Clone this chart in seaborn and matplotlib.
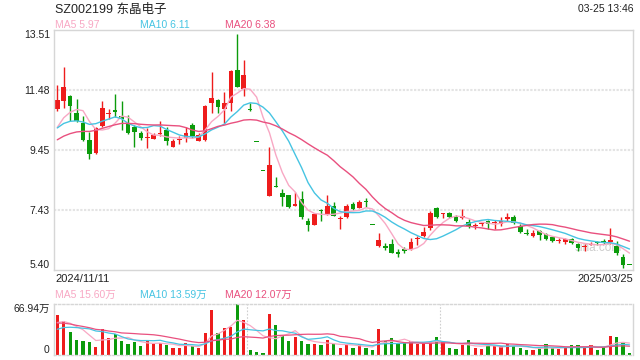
import numpy as np
import pandas as pd
import matplotlib
matplotlib.use("Agg")
import matplotlib.pyplot as plt
import seaborn as sns

# daily candles, 2024/11/11 .. 2025/03/25
opens = [10.85, 11.12, 11.27, 10.70, 10.37, 9.78, 9.35, 10.25, 10.66, 10.82,
         10.59, 10.34, 10.23, 10.02, 9.87, 9.84, 10.00, 10.14, 9.57, 9.79,
         9.86, 10.29, 9.77, 9.80, 11.04, 11.15, 10.84, 11.04, 12.17, 11.53,
         10.81, 9.72, 8.75, 7.91, 8.24, 8.00, 7.93, 7.57, 7.80, 7.07,
         6.93, 7.42, 7.30, 7.55, 7.11, 7.20, 7.63, 7.51, 7.73, 6.93,
         6.21, 6.21, 6.28, 6.02, 6.10, 6.10, 6.46, 6.55, 6.81, 7.48,
         7.29, 7.34, 7.20, 7.15, 7.03, 6.89, 6.94, 7.06, 6.99, 6.95,
         7.14, 7.18, 6.89, 6.65, 6.55, 6.72, 6.60, 6.50, 6.38, 6.33,
         6.44, 6.28, 6.18, 6.26, 6.33, 6.37, 6.33, 6.22, 5.83, 5.57]
highs = [11.66, 12.26, 11.32, 11.18, 10.59, 10.05, 10.23, 11.12, 10.84, 11.35,
         11.10, 10.63, 10.31, 10.11, 10.20, 10.03, 10.42, 10.22, 9.83, 9.92,
         10.24, 10.37, 10.03, 10.99, 12.09, 11.18, 11.40, 12.17, 13.37, 12.51,
         11.04, 9.72, 8.75, 9.56, 8.54, 8.15, 7.95, 8.04, 8.08, 7.16,
         7.33, 7.46, 7.95, 7.70, 7.21, 7.63, 7.71, 7.76, 7.82, 6.93,
         6.64, 6.30, 6.45, 6.10, 6.17, 6.47, 6.55, 6.86, 7.39, 7.54,
         7.34, 7.37, 7.26, 7.45, 7.12, 7.00, 7.03, 7.09, 7.09, 7.20,
         7.31, 7.26, 6.95, 6.79, 6.75, 6.75, 6.64, 6.55, 6.47, 6.47,
         6.47, 6.30, 6.27, 6.36, 6.39, 6.44, 6.83, 6.39, 5.94, 5.57]
lows = [10.78, 10.87, 10.45, 10.40, 9.77, 9.16, 9.32, 10.22, 10.51, 10.56,
        10.14, 10.00, 9.57, 9.79, 9.52, 9.83, 9.92, 9.61, 9.56, 9.67,
        9.72, 9.86, 9.75, 9.77, 10.70, 10.70, 10.37, 10.76, 11.57, 11.29,
        10.78, 9.71, 8.74, 7.89, 8.19, 7.57, 7.49, 7.55, 7.13, 6.71,
        6.92, 7.07, 7.27, 7.21, 6.80, 7.17, 7.43, 7.48, 7.52, 6.92,
        6.19, 6.08, 5.96, 5.85, 5.99, 6.08, 6.24, 6.53, 6.75, 7.17,
        7.15, 7.15, 7.01, 7.11, 6.81, 6.77, 6.89, 6.77, 6.77, 6.89,
        7.07, 6.95, 6.64, 6.58, 6.53, 6.41, 6.41, 6.33, 6.32, 6.27,
        6.27, 6.04, 6.05, 6.24, 6.24, 6.29, 6.27, 5.91, 5.46, 5.56]
closes = [11.15, 11.57, 10.95, 10.45, 9.80, 9.33, 10.20, 10.87, 10.68, 10.74,
          10.51, 10.03, 10.05, 9.86, 9.89, 9.97, 10.01, 9.75, 9.75, 9.80,
          10.02, 9.94, 9.97, 10.93, 11.21, 10.90, 11.04, 12.13, 11.60, 11.98,
          10.79, 9.71, 8.74, 8.96, 8.22, 7.85, 7.52, 7.63, 7.18, 6.93,
          7.30, 7.38, 7.57, 7.24, 7.13, 7.56, 7.46, 7.69, 7.69, 6.92,
          6.41, 6.15, 5.99, 5.94, 6.03, 6.33, 6.48, 6.70, 7.34, 7.20,
          7.31, 7.20, 7.07, 7.22, 6.89, 6.92, 6.96, 6.95, 7.01, 7.06,
          7.16, 6.98, 6.70, 6.63, 6.64, 6.58, 6.45, 6.39, 6.40, 6.44,
          6.30, 6.15, 6.20, 6.28, 6.31, 6.35, 6.41, 5.96, 5.57, 5.56]
# volume in 万
volumes = [52.9, 44.9, 30.5, 19.4, 18.1, 17.2, 10.0, 34.1, 22.1, 27.0,
           18.1, 14.1, 17.2, 11.4, 18.5, 15.0, 15.8, 12.7, 9.1, 9.1,
           15.8, 11.8, 9.1, 29.2, 59.6, 28.4, 35.9, 37.2, 66.94, 46.2,
           7.0, 3.7, 2.4, 54.2, 39.5, 24.8, 18.5, 23.0, 18.5, 14.1,
           14.1, 12.7, 19.4, 14.1, 9.6, 12.7, 9.6, 15.0, 9.6, 6.0,
           33.7, 18.5, 21.7, 14.1, 15.8, 18.5, 14.1, 15.8, 17.2, 23.0,
           17.2, 9.6, 8.3, 12.7, 19.4, 9.6, 8.3, 11.4, 11.4, 11.4,
           14.1, 11.4, 9.6, 7.0, 6.0, 9.1, 14.1, 9.1, 7.6, 9.6,
           12.7, 12.7, 9.6, 12.7, 7.0, 10.4, 24.8, 23.8, 17.2, 2.0]

# the 19 sessions before the window, only used to seed the moving averages
warm_closes = [9.10, 9.25, 9.32, 9.40, 9.38, 9.45, 9.50, 9.48, 9.55, 9.57,
               10.05, 10.22, 10.30, 10.18, 10.15, 9.95, 10.02, 9.98, 10.00]
warm_volumes = [48, 52, 55, 47, 50, 53, 49, 51, 46, 49,
                22, 27, 24, 26, 26, 38, 42, 41, 39]

price_ticks = [5.40, 7.43, 9.45, 11.48, 13.51]
vol_ticks = [0, 66.94]
vol_tick_labels = ['0', '66.94万']
ma_windows = [5, 10, 20]
ma_colors = ['#f8a8c4', '#46c4e2', '#e9507f']
price_legend = ['MA5 5.97', 'MA10 6.11', 'MA20 6.38']
vol_legend = ['MA5 15.60万', 'MA10 13.59万', 'MA20 12.07万']

RED = '#ee1c1c'
GREEN = '#0b9b0b'
EDGE = '#d6d6d6'

sns.set_theme(style='white')
plt.rcParams['font.family'] = ['Liberation Sans', 'Noto Sans CJK SC']

df = pd.DataFrame({'open': opens, 'high': highs, 'low': lows,
                   'close': closes, 'vol': volumes})
df['day'] = np.arange(len(df))
df['color'] = np.where(df['close'] >= df['open'], RED, GREEN)
n_warm = len(warm_closes)
all_close = pd.Series(warm_closes + closes)
all_vol = pd.Series(warm_volumes + volumes)
for w in ma_windows:
    df[f'ma{w}'] = all_close.rolling(w).mean().iloc[n_warm:].values
    df[f'vma{w}'] = all_vol.rolling(w).mean().iloc[n_warm:].values

fig = plt.figure(figsize=(6.4, 3.6), dpi=100)
W, H = 640, 360


def px_axes(x0, y0, x1, y1):
    return fig.add_axes([x0 / W, 1 - y1 / H, (x1 - x0) / W, (y1 - y0) / H])


ax = px_axes(54, 30, 633, 270)
axv = px_axes(54, 304, 633, 355)
xlim = (-0.51, 89.54)

# ---- price panel
for t in price_ticks[1:-1]:
    ax.axhline(t, color='#e4e4e4', lw=1.5, ls=(0, (1.1, 0.7)), zorder=0)

ax.vlines(df['day'], df['low'], df['high'], colors=df['color'], lw=1, zorder=1)
body = np.maximum((df['close'] - df['open']).abs(), 0.035)
ax.bar(df['day'], body, bottom=np.minimum(df['open'], df['close']),
       width=0.72, color=df['color'], linewidth=0, zorder=2)

for w, c in zip(ma_windows, ma_colors):
    sns.lineplot(data=df, x='day', y=f'ma{w}', ax=ax, color=c, lw=1.0, zorder=3)

ax.text(0.94, 0.09, 'sina.com', transform=ax.transAxes, ha='center', va='center',
        fontsize=8.5, color='#cccccc', zorder=0.5)

ax.set_xlim(*xlim)
ax.set_ylim(price_ticks[0], price_ticks[-1])
ax.set_yticks(price_ticks)
ax.set_yticklabels([f'{t:.2f}' for t in price_ticks])
ax.set_xticks([])
ax.set_xlabel('')
ax.set_ylabel('')
ax.tick_params(axis='y', length=0, pad=3, labelsize=7.5, labelcolor='#222222')
lbl = ax.get_yticklabels()
lbl[0].set_va('bottom')
lbl[-1].set_va('top')
for s in ax.spines.values():
    s.set_color(EDGE)
    s.set_linewidth(1)

# ---- volume panel
axv.bar(df['day'], df['vol'], width=0.5, color=df['color'], linewidth=0, zorder=2)
for w, c in zip(ma_windows, ma_colors):
    sns.lineplot(data=df, x='day', y=f'vma{w}', ax=axv, color=c, lw=0.9, zorder=3)
for xv in [29.5, 59.5]:
    axv.axvline(xv, color='#cfcfcf', lw=0.8, ls=(0, (1.5, 1.5)), zorder=0)

axv.set_xlim(*xlim)
axv.set_ylim(vol_ticks[0], vol_ticks[-1])
axv.set_yticks(vol_ticks)
axv.set_yticklabels(vol_tick_labels)
axv.set_xticks([])
axv.set_xlabel('')
axv.set_ylabel('')
axv.tick_params(axis='y', length=0, pad=3, labelsize=7.5, labelcolor='#222222')
vl = axv.get_yticklabels()
vl[0].set_va('bottom')
vl[-1].set_va('top')
for k, s in axv.spines.items():
    s.set_color(EDGE)
    s.set_linewidth(1)
    if k in ('top', 'bottom'):
        s.set_linestyle((0, (1.5, 1.5)))


# ---- header / footer texts (pixel positions)
def ftext(x, y, s, **kw):
    fig.text(x / W, 1 - y / H, s, va='baseline', **kw)


ftext(55, 13, 'SZ002199 东晶电子', fontsize=9, color='#222222')
ftext(633, 12, '03-25 13:46', fontsize=7.5, color='#222222', ha='right')
for x, s, c in zip([55, 140, 225], price_legend, ma_colors):
    ftext(x, 28, s, fontsize=7.5, color=c)
ftext(55, 282, '2024/11/11', fontsize=8, color='#222222')
ftext(633, 282, '2025/03/25', fontsize=8, color='#222222', ha='right')
for x, s, c in zip([55, 140, 225], vol_legend, ma_colors):
    ftext(x, 298, s, fontsize=7.5, color=c)

fig.savefig('out.png', dpi=100)
